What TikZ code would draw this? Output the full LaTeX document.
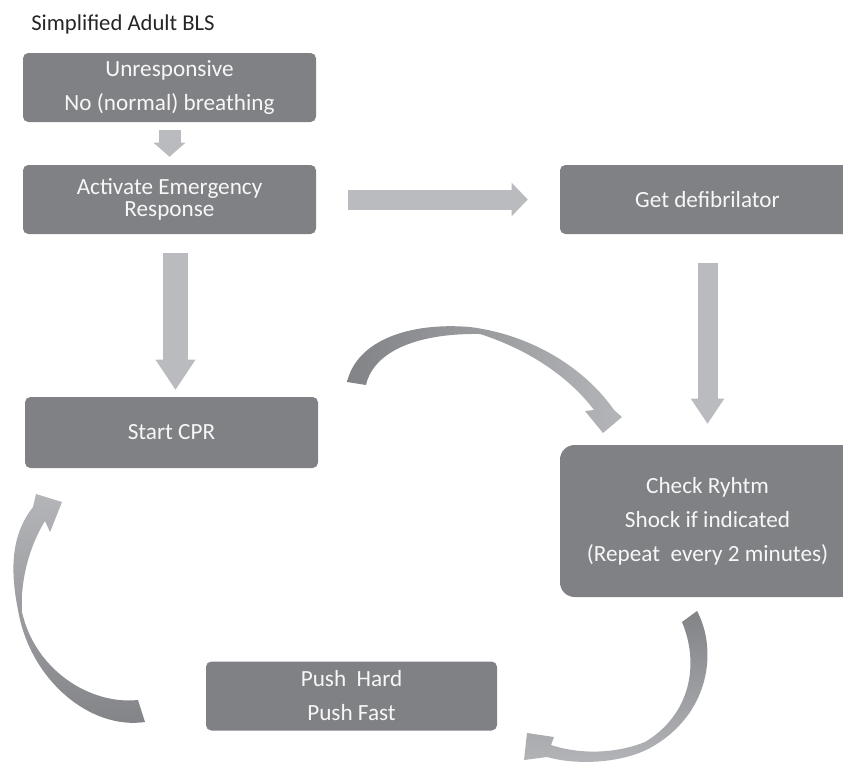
\documentclass[tikz,border=0pt]{standalone}
\usepackage{fontspec}
\setmainfont{Carlito}
\usetikzlibrary{arrows.meta,positioning}
\definecolor{boxgray}{RGB}{128,129,133}
\definecolor{arrowgray}{RGB}{186,187,190}
\definecolor{arcdark}{RGB}{130,131,135}
\definecolor{arclight}{RGB}{180,181,184}
\tikzset{
  box/.style={fill=boxgray, text=white!97!black, rounded corners=4pt, align=center,
    inner sep=0pt, font=\fontsize{17.4}{16.5}\selectfont},
  blockarrow/.style n args={3}{draw=arrowgray, line width=#1,
    -{Triangle[width=#2, length=#3, line width=0pt]}},
}
\begin{document}
\begin{tikzpicture}[x=0.75pt,y=-0.75pt]
  \useasboundingbox (0,0) rectangle (843,765);

  \node[anchor=base west, inner sep=0pt, text=black!85, font=\fontsize{17}{18}\selectfont] (title) at (31,30) {Simplified Adult BLS};

  \node[box, minimum width=219.75pt, minimum height=51.75pt] (unresp) at (169.5,87.5) {Unresponsive\\[9pt]No (normal) breathing};
  \node[box, minimum width=219.75pt, minimum height=51.75pt] (act) at (169.5,199.5) {Activate Emergency\\Response};
  \node[box, minimum width=221.25pt, minimum height=51.75pt] (defib) at (707.5,199.5) {Get defibrilator};
  \node[box, minimum width=219.75pt, minimum height=53.25pt] (cpr) at (171.5,432.5) {Start CPR};
  \node[box, rounded corners=11pt, minimum width=221.25pt, minimum height=114pt] (check) at (707.5,521) {Check Ryhtm\\[9pt]Shock if indicated\\[9pt](Repeat\ \ every 2 minutes)};
  \node[box, minimum width=218.25pt, minimum height=51.75pt] (push) at (351.5,696) {Push\ \ Hard\\[9pt]Push Fast};

  % straight arrows
  \draw[blockarrow={16.5pt}{24pt}{10.5pt}, shorten <=6pt, shorten >=6pt] (unresp.south) -- (act.north);
  \draw[blockarrow={15pt}{25pt}{12pt}, shorten <=24pt, shorten >=24pt] (act.east) -- (defib.west);
  \draw[blockarrow={18.75pt}{30pt}{22.5pt}, shorten <=14.25pt, shorten >=5.25pt]
    ([xshift=4.5pt]act.south) -- ([xshift=4.5pt]act.south |- cpr.north);
  \draw[blockarrow={15pt}{25pt}{18.75pt}, shorten <=21.75pt, shorten >=15.75pt] (defib.south) -- (check.north);

  % curved arrows
  \shade[left color=arcdark, right color=arclight]
    (347,382) .. controls (357,340) and (410,322) .. (470,327)
    .. controls (540,336) and (590,375) .. (614,410)
    -- (622,417) -- (603,433) -- (585,411) -- (594,410)
    .. controls (570,378) and (530,350) .. (480,334)
    .. controls (420,333) and (374,350) .. (366,385) -- cycle;
  \shade[top color=arcdark, bottom color=arclight]
    (682,622) -- (697,611) .. controls (718,650) and (710,715) .. (650,748)
    .. controls (620,764) and (575,765) .. (547,757)
    -- (524,760) -- (527,733) -- (554,737) -- (551,745)
    .. controls (585,756) and (620,752) .. (645,742)
    .. controls (690,715) and (700,665) .. (682,622) -- cycle;
  \shade[top color=arclight, bottom color=arcdark]
    (138,700) -- (145,722) .. controls (90,730) and (30,680) .. (18,610)
    .. controls (8,560) and (15,530) .. (33,507)
    -- (36,494) -- (62,502) -- (50,532) -- (45,521)
    .. controls (30,545) and (20,580) .. (22,612)
    .. controls (35,670) and (90,705) .. (138,700) -- cycle;
\end{tikzpicture}
\end{document}
